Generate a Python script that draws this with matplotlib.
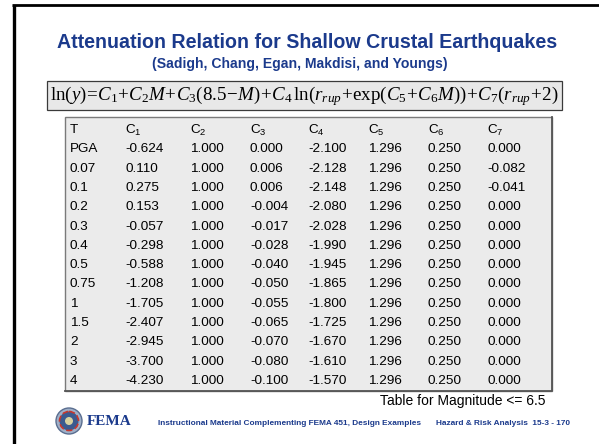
import matplotlib
matplotlib.use("Agg")
import matplotlib.pyplot as plt
from matplotlib.patches import Rectangle, Circle

plt.rcParams["font.family"] = ["Liberation Sans", "DejaVu Sans"]
plt.rcParams["mathtext.fontset"] = "custom"
plt.rcParams["mathtext.rm"] = "Liberation Serif"
plt.rcParams["mathtext.it"] = "Liberation Serif:italic"
plt.rcParams["mathtext.bf"] = "Liberation Serif:bold"

# table data
columns = ["T", r"$\mathregular{C_1}$", r"$\mathregular{C_2}$", r"$\mathregular{C_3}$", r"$\mathregular{C_4}$",
           r"$\mathregular{C_5}$", r"$\mathregular{C_6}$", r"$\mathregular{C_7}$"]
periods = ["PGA", "0.07", "0.1", "0.2", "0.3", "0.4", "0.5", "0.75", "1", "1.5", "2", "3", "4"]
c1 = [-0.624, 0.110, 0.275, 0.153, -0.057, -0.298, -0.588, -1.208, -1.705, -2.407, -2.945, -3.700, -4.230]
c2 = [1.000] * 13
c3 = [0.000, 0.006, 0.006, -0.004, -0.017, -0.028, -0.040, -0.050, -0.055, -0.065, -0.070, -0.080, -0.100]
c4 = [-2.100, -2.128, -2.148, -2.080, -2.028, -1.990, -1.945, -1.865, -1.800, -1.725, -1.670, -1.610, -1.570]
c5 = [1.296] * 13
c6 = [0.250] * 13
c7 = [0.000, -0.082, -0.041, 0.000, 0.000, 0.000, 0.000, 0.000, 0.000, 0.000, 0.000, 0.000, 0.000]

title = "Attenuation Relation for Shallow Crustal Earthquakes"
subtitle = "(Sadigh, Chang, Egan, Makdisi, and Youngs)"
formula = (r"$\mathrm{ln}(y)\!=\!C_1\!+\!C_2M\!+\!C_3(8.5\!-\!M)\!+\!C_4\,\mathrm{ln}(r_{rup}\!+\!\mathrm{exp}(C_5\!+\!C_6M))"
           r"\!+\!C_7(r_{rup}\!+\!2)$")
note = "Table for Magnitude <= 6.5"
footer_left = "Instructional Material Complementing FEMA 451, Design Examples"
footer_right = "Hazard & Risk Analysis  15-3 - 170"

BLUE = "#1b3a8c"

fig = plt.figure(figsize=(5.99, 4.44), dpi=100)
ax = fig.add_axes([0, 0, 1, 1])
ax.set_xlim(0, 599)
ax.set_ylim(444, 0)
ax.axis("off")
renderer = fig.canvas.get_renderer()


def fit_width(t, width):
    # rescale a text object so its drawn width matches the target in pixels
    for _ in range(3):
        w = t.get_window_extent(renderer).width
        t.set_fontsize(t.get_fontsize() * width / w)


# slide frame (left and top rules only)
ax.plot([13.5, 13.5], [5, 444], color="black", linewidth=2.4, solid_capstyle="butt")
ax.plot([12.3, 599], [5, 5], color="black", linewidth=2.0, solid_capstyle="butt")

t = ax.text(307, 43, title, ha="center", va="center", fontsize=12, fontweight="bold", color=BLUE)
fit_width(t, 500)
t = ax.text(300, 64, subtitle, ha="center", va="center", fontsize=9, fontweight="bold", color=BLUE)
fit_width(t, 295)

# formula box
ax.add_patch(Rectangle((47, 81), 515, 29, facecolor="#e8e8e8", edgecolor="#3a3a3a", linewidth=0.9))
t = ax.text(304.5, 96, formula, ha="center", va="center", fontsize=14, color="black")
fit_width(t, 509)

# table box
ax.add_patch(Rectangle((65, 117), 487, 274, facecolor="#ebebeb", edgecolor="#7a7a7a", linewidth=1.0))
ax.plot([65, 552, 552], [391, 391, 117], color="#555555", linewidth=1.3)

col_x = [70, 125, 190, 250, 308, 368, 428, 487]
row_y0, row_dy = 130, 19.3
for j, name in enumerate(columns):
    ax.text(col_x[j], row_y0, name, ha="left", va="center", fontsize=9.7, color="black")
for i, period in enumerate(periods):
    y = row_y0 + (i + 1) * row_dy
    values = [c1[i], c2[i], c3[i], c4[i], c5[i], c6[i], c7[i]]
    ax.text(col_x[0], y, period, ha="left", va="center", fontsize=9.7, color="black")
    for j, v in enumerate(values):
        ax.text(col_x[j + 1], y, f"{v:.3f}", ha="left", va="center", fontsize=9.7, color="black")

ax.text(545, 401, note, ha="right", va="center", fontsize=10, color="black")

# footer: rough FEMA seal + wordmark
ax.add_patch(Circle((69, 421), 13, facecolor="#9fb0c8", edgecolor="#5a6e90", linewidth=1.0))
ax.add_patch(Circle((69, 421), 9.5, facecolor="#3b5a8f", edgecolor="#c8372d", linewidth=1.2, linestyle="--"))
ax.add_patch(Circle((69, 421), 4, facecolor="#d9d2a0", edgecolor="none"))
ax.text(87, 421, "FEMA", ha="left", va="center", fontsize=11, fontweight="bold", color=BLUE,
        family="Liberation Serif")

t = ax.text(158, 423, footer_left, ha="left", va="center", fontsize=5.5, fontweight="bold", color=BLUE)
fit_width(t, 260)
t = ax.text(570, 423, footer_right, ha="right", va="center", fontsize=5.5, fontweight="bold", color=BLUE)
fit_width(t, 134)

fig.savefig("out.png", dpi=100)
plt.close(fig)
